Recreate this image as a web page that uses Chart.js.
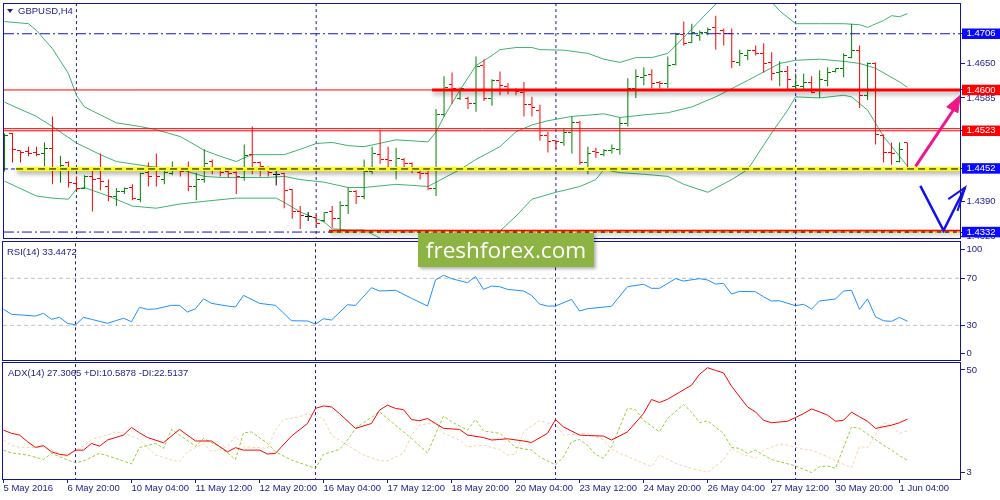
<!DOCTYPE html>
<html><head><meta charset="utf-8">
<script src="https://cdn.jsdelivr.net/npm/chart.js@4.4.0/dist/chart.umd.min.js"></script>
<style>
html,body{margin:0;padding:0;background:#fff;width:1000px;height:500px;overflow:hidden;}
.pane{position:absolute;left:0;width:1000px;}
#pMain{top:0;height:242px;}
#pRsi{top:240px;height:122px;}
#pAdx{top:361px;height:139px;}
.lbl{position:absolute;font-family:'Liberation Sans',Arial,sans-serif;font-size:9.5px;color:#1c1c8c;white-space:nowrap;line-height:11px;z-index:5;}
#tri{position:absolute;left:7px;top:9px;width:0;height:0;border-left:3px solid transparent;border-right:3px solid transparent;border-top:4px solid #1c1c8c;z-index:5;}
#wm{position:absolute;left:418px;top:233px;width:176px;height:34px;background:#8db443;color:#fff;font-family:'Open Sans',sans-serif;font-size:22.6px;line-height:33px;text-align:center;z-index:10;box-shadow:2px 2px 3px rgba(0,0,0,0.3);}
</style></head>
<body>
<div class="pane" id="pMain"><canvas id="cMain"></canvas></div>
<div class="pane" id="pRsi"><canvas id="cRsi"></canvas></div>
<div class="pane" id="pAdx"><canvas id="cAdx"></canvas></div>
<div id="tri"></div>
<div class="lbl" style="left:18px;top:4.5px;">GBPUSD,H4</div>
<div class="lbl" style="left:7px;top:246px;">RSI(14) 33.4472</div>
<div class="lbl" style="left:8px;top:366.5px;">ADX(14) 27.3065 +DI:10.5878 -DI:22.5137</div>
<div id="wm">freshforex.com</div>
<script>
// ---------------- DATA ----------------
const barOpen = [1.4456,1.4518,1.4486,1.4484,1.4482,1.4480,1.4490,1.4454,1.4463,1.4424,
 1.4415,1.4437,1.4433,1.4418,1.4400,1.4409,1.4416,1.4394,1.4444,1.4452,
 1.4431,1.4443,1.4450,1.4450,1.4418,1.4431,1.4465,1.4450,1.4446,1.4444,
 1.4435,1.4478,1.4463,1.4454,1.4441,1.4443,1.4412,1.4370,1.4362,1.4360,
 1.4353,1.4370,1.4357,1.4383,1.4409,1.4400,1.4446,1.4478,1.4469,1.4454,
 1.4469,1.4461,1.4444,1.4443,1.4415,1.4553,1.4611,1.4583,1.4583,1.4575,
 1.4646,1.4583,1.4617,1.4607,1.4600,1.4596,1.4572,1.4562,1.4514,1.4504,
 1.4501,1.4519,1.4538,1.4463,1.4484,1.4478,1.4486,1.4488,1.4536,1.4603,
 1.4624,1.4630,1.4615,1.4613,1.4648,1.4704,1.4689,1.4703,1.4708,1.4718,
 1.4712,1.4706,1.4652,1.4665,1.4675,1.4669,1.4652,1.4633,1.4635,1.4607,
 1.4607,1.4615,1.4600,1.4618,1.4635,1.4641,1.4661,1.4675,1.4590,1.4650,
 1.4514,1.4482,1.4465,1.4501];
const barHigh = [1.4518,1.4519,1.4486,1.4493,1.4493,1.4501,1.4550,1.4476,1.4465,1.4437,
 1.4439,1.4450,1.4480,1.4431,1.4415,1.4416,1.4422,1.4444,1.4463,1.4480,
 1.4450,1.4465,1.4454,1.4465,1.4444,1.4488,1.4469,1.4454,1.4450,1.4446,
 1.4497,1.4531,1.4465,1.4456,1.4450,1.4444,1.4413,1.4381,1.4370,1.4364,
 1.4370,1.4381,1.4390,1.4416,1.4411,1.4469,1.4493,1.4523,1.4493,1.4491,
 1.4471,1.4463,1.4452,1.4452,1.4564,1.4626,1.4633,1.4605,1.4587,1.4663,
 1.4658,1.4620,1.4635,1.4613,1.4603,1.4615,1.4587,1.4572,1.4521,1.4506,
 1.4527,1.4550,1.4542,1.4493,1.4491,1.4488,1.4497,1.4548,1.4622,1.4639,
 1.4643,1.4639,1.4617,1.4663,1.4708,1.4729,1.4725,1.4712,1.4718,1.4740,
 1.4716,1.4716,1.4676,1.4676,1.4684,1.4688,1.4671,1.4654,1.4645,1.4631,
 1.4631,1.4626,1.4637,1.4643,1.4641,1.4669,1.4725,1.4684,1.4652,1.4652,
 1.4516,1.4501,1.4501,1.4501];
const barLow = [1.4446,1.4463,1.4463,1.4475,1.4475,1.4456,1.4422,1.4425,1.4416,1.4409,
 1.4413,1.4371,1.4411,1.4390,1.4381,1.4404,1.4392,1.4388,1.4418,1.4418,
 1.4422,1.4439,1.4437,1.4409,1.4392,1.4425,1.4441,1.4437,1.4435,1.4404,
 1.4429,1.4441,1.4437,1.4437,1.4420,1.4377,1.4357,1.4338,1.4353,1.4343,
 1.4351,1.4340,1.4332,1.4366,1.4385,1.4394,1.4441,1.4461,1.4450,1.4431,
 1.4454,1.4443,1.4431,1.4411,1.4400,1.4550,1.4574,1.4581,1.4564,1.4559,
 1.4579,1.4570,1.4590,1.4592,1.4590,1.4550,1.4550,1.4504,1.4482,1.4488,
 1.4495,1.4480,1.4459,1.4441,1.4472,1.4475,1.4480,1.4478,1.4531,1.4585,
 1.4609,1.4603,1.4603,1.4603,1.4646,1.4684,1.4688,1.4693,1.4703,1.4676,
 1.4684,1.4641,1.4645,1.4656,1.4665,1.4633,1.4618,1.4607,1.4602,1.4602,
 1.4600,1.4594,1.4585,1.4607,1.4633,1.4624,1.4660,1.4566,1.4581,1.4497,
 1.4463,1.4459,1.4463,1.4448];
const barClose = [1.4514,1.4488,1.4482,1.4480,1.4478,1.4490,1.4454,1.4457,1.4425,1.4415,
 1.4437,1.4431,1.4428,1.4400,1.4409,1.4415,1.4396,1.4443,1.4437,1.4437,
 1.4444,1.4450,1.4446,1.4418,1.4431,1.4461,1.4450,1.4444,1.4443,1.4437,
 1.4476,1.4463,1.4456,1.4444,1.4441,1.4411,1.4370,1.4364,1.4362,1.4349,
 1.4368,1.4358,1.4383,1.4409,1.4400,1.4446,1.4480,1.4469,1.4467,1.4471,
 1.4461,1.4454,1.4443,1.4415,1.4553,1.4605,1.4602,1.4602,1.4574,1.4645,
 1.4583,1.4618,1.4609,1.4600,1.4598,1.4572,1.4566,1.4514,1.4502,1.4502,
 1.4519,1.4538,1.4463,1.4480,1.4482,1.4486,1.4490,1.4536,1.4603,1.4626,
 1.4628,1.4613,1.4613,1.4646,1.4704,1.4688,1.4708,1.4708,1.4714,1.4706,
 1.4706,1.4654,1.4669,1.4675,1.4669,1.4650,1.4631,1.4635,1.4620,1.4609,
 1.4615,1.4596,1.4620,1.4633,1.4641,1.4665,1.4675,1.4590,1.4650,1.4516,
 1.4482,1.4481,1.4488,1.4454];

// Bollinger bands: [bar, price]
const bbUpper = [[0,1.4729],[3,1.4725],[4,1.4712],[6,1.4678],[8,1.4631],[9,1.4590],[10,1.4568],[12,1.4553],[14,1.4538],[17,1.4531],[19,1.4525],[22,1.4512],[24,1.4495],[25,1.4486],[27,1.4475],[29,1.4465],[30,1.4472],[31,1.4478],[35,1.4478],[37,1.4488],[39,1.4499],[41,1.4501],[43,1.4495],[45,1.4493],[49,1.4506],[53,1.4502],[54,1.4521],[55,1.4550],[57,1.4600],[59,1.4646],[61,1.4665],[62,1.4676],[64,1.4680],[66,1.4680],[67,1.4676],[70,1.4675],[73,1.4669],[75,1.4658],[77,1.4652],[79,1.4661],[81,1.4661],[83,1.4669],[85,1.4699],[87,1.4731],[89,1.4762],[91,1.4785],[94,1.4787],[96,1.4766],[97,1.4749],[99,1.4725],[102,1.4725],[105,1.4725],[107,1.4723],[108,1.4718],[110,1.4731],[111,1.4740],[112,1.4738],[113,1.4744]];
const bbMiddle = [[0,1.4577],[4,1.4550],[6,1.4531],[9,1.4500],[12,1.4478],[14,1.4465],[18,1.4456],[22,1.4450],[25,1.4437],[27,1.4435],[33,1.4435],[35,1.4437],[37,1.4431],[40,1.4426],[43,1.4416],[45,1.4416],[49,1.4422],[53,1.4418],[54,1.4426],[57,1.4450],[59,1.4469],[62,1.4493],[64,1.4521],[66,1.4534],[68,1.4542],[71,1.4550],[75,1.4555],[77,1.4548],[80,1.4553],[83,1.4557],[86,1.4568],[89,1.4587],[93,1.4618],[97,1.4650],[99,1.4656],[102,1.4658],[105,1.4654],[107,1.4650],[109,1.4641],[112,1.4615],[113,1.4605]];
const bbLower = [[0,1.4428],[4,1.4400],[6,1.4396],[8,1.4394],[9,1.4413],[10,1.4416],[13,1.4400],[16,1.4381],[19,1.4377],[22,1.4385],[25,1.4390],[29,1.4396],[34,1.4396],[35,1.4388],[37,1.4370],[40,1.4351],[41,1.4338],[43,1.4336],[45,1.4336],[49,1.4305],[55,1.4292],[61,1.4310],[62,1.4334],[64,1.4362],[66,1.4394],[69,1.4407],[72,1.4418],[74,1.4431],[75,1.4450],[77,1.4444],[80,1.4441],[83,1.4437],[85,1.4422],[88,1.4407],[91,1.4431],[93,1.4450],[96,1.4519],[98,1.4562],[99,1.4587],[102,1.4585],[105,1.4590],[106,1.4587],[108,1.4562],[110,1.4512],[112,1.4475],[113,1.4456]];

// RSI(14): [bar, value]
const rsiValues = [[0,43.6],[1,39.4],[4,37.9],[5,40.2],[6,35.1],[7,36.8],[8,31.7],[9,30.3],[10,36.8],[11,35.1],[13,31.7],[14,33.9],[15,36.0],[16,33.1],[17,45.3],[18,43.6],[19,43.9],[21,47.0],[22,47.0],[23,41.3],[24,44.1],[25,52.6],[26,48.7],[28,46.4],[29,45.6],[30,55.5],[32,48.7],[34,47.0],[36,33.9],[38,33.7],[39,31.1],[40,35.6],[41,34.5],[43,47.5],[44,47.0],[46,62.0],[47,59.2],[49,59.8],[51,53.0],[53,46.4],[54,68.6],[55,72.6],[56,69.7],[58,66.3],[59,71.4],[60,60.6],[61,63.4],[62,62.9],[63,60.6],[65,59.2],[66,55.5],[67,48.1],[68,46.4],[69,46.4],[71,52.1],[72,42.2],[73,44.1],[76,46.2],[78,62.9],[80,64.9],[81,61.5],[82,61.5],[84,69.7],[85,67.7],[87,69.7],[88,68.6],[89,65.1],[90,65.7],[91,56.6],[92,58.9],[94,58.6],[95,54.3],[96,50.7],[97,50.9],[99,46.7],[100,47.9],[101,43.9],[102,50.7],[104,52.4],[105,59.2],[106,59.8],[107,43.6],[108,52.6],[109,37.3],[110,33.9],[111,33.4],[112,36.8],[113,33.4]];

// ADX(14): [bar, value]
const adxLine = [[0,22.8],[1,21.5],[2,20.8],[3,18.1],[4,15.8],[5,16.5],[6,14.0],[7,13.0],[8,12.6],[9,14.7],[10,14.7],[11,17.4],[12,16.3],[13,18.8],[15,20.8],[16,23.9],[17,21.7],[18,19.8],[20,17.7],[22,23.1],[24,18.4],[26,18.4],[28,14.0],[29,15.7],[30,14.7],[32,14.7],[33,13.1],[34,13.4],[36,20.4],[38,25.5],[39,31.6],[40,32.6],[41,32.2],[42,29.5],[44,23.5],[46,25.5],[47,30.9],[48,32.9],[49,31.6],[50,31.1],[51,27.1],[52,26.6],[53,27.5],[54,25.5],[55,23.5],[57,23.1],[58,20.8],[60,19.8],[61,18.8],[62,19.0],[63,19.3],[65,18.4],[66,17.8],[68,21.5],[69,27.1],[70,24.1],[72,20.8],[73,20.6],[75,20.4],[76,18.8],[78,22.1],[80,29.5],[81,35.2],[82,34.0],[83,35.3],[86,41.0],[87,45.4],[88,48.1],[89,47.0],[90,46.0],[91,40.6],[93,32.2],[94,30.2],[95,26.8],[96,25.8],[98,26.4],[99,27.9],[100,29.5],[101,31.4],[102,30.2],[103,28.9],[104,26.4],[105,26.8],[106,30.1],[107,28.2],[108,26.4],[109,23.5],[111,24.8],[112,25.8],[113,27.3]];
const plusDi = [[0,14.7],[1,13.6],[3,12.7],[5,10.9],[6,13.4],[8,10.7],[9,9.6],[10,10.3],[12,13.4],[14,11.4],[16,9.1],[17,15.8],[19,17.4],[20,15.4],[21,23.1],[22,20.8],[24,16.3],[25,19.4],[27,16.1],[28,13.6],[29,10.9],[30,21.7],[31,22.1],[33,17.4],[34,14.0],[36,10.7],[39,7.3],[40,13.0],[42,15.0],[43,18.8],[44,23.5],[45,25.8],[47,30.2],[49,24.8],[51,19.4],[53,13.6],[55,28.5],[56,26.2],[58,22.8],[59,27.1],[60,22.5],[62,21.5],[63,18.8],[64,15.8],[66,14.7],[67,12.0],[69,8.7],[70,12.0],[71,18.1],[72,19.0],[73,16.7],[74,13.0],[75,11.4],[76,16.1],[78,31.6],[79,31.1],[80,26.8],[82,22.1],[83,27.5],[85,33.2],[86,30.2],[87,25.8],[88,26.6],[90,21.5],[91,15.8],[92,15.4],[93,13.4],[94,14.7],[95,12.7],[96,10.9],[99,8.3],[101,5.6],[102,8.0],[103,8.3],[104,7.3],[106,24.1],[107,23.5],[108,21.2],[110,16.7],[111,14.7],[112,12.4],[113,10.6]];
const minusDi = [[0,18.8],[1,16.7],[2,15.8],[4,15.8],[5,16.1],[7,13.4],[8,12.0],[9,14.7],[10,16.3],[11,19.0],[13,20.8],[14,22.1],[15,21.7],[17,19.0],[18,15.8],[19,12.7],[21,10.7],[22,10.0],[23,14.0],[25,17.4],[26,14.0],[28,16.1],[29,20.4],[30,16.1],[33,15.4],[34,22.8],[35,27.1],[37,28.2],[38,29.5],[40,27.5],[41,20.8],[43,16.7],[45,12.7],[47,10.4],[48,10.4],[50,13.4],[51,20.8],[52,24.8],[54,25.8],[55,21.5],[57,18.8],[58,16.1],[60,16.7],[62,15.0],[63,12.7],[64,13.1],[65,22.1],[67,26.6],[69,24.8],[70,20.8],[73,21.5],[75,18.8],[76,15.0],[79,10.7],[81,8.0],[82,12.7],[84,9.3],[86,7.3],[88,5.7],[89,8.3],[90,10.7],[91,15.7],[92,13.4],[94,11.4],[95,14.7],[97,17.1],[98,16.7],[100,15.0],[101,14.7],[103,12.0],[104,10.3],[106,7.6],[107,16.1],[108,15.8],[110,25.8],[111,24.4],[112,21.5],[113,22.5]];

// time axis
const timeLabels = ["5 May 2016","6 May 20:00","10 May 04:00","11 May 12:00","12 May 20:00","16 May 04:00","17 May 12:00","18 May 20:00","20 May 04:00","23 May 12:00","24 May 20:00","26 May 04:00","27 May 12:00","30 May 20:00","1 Jun 04:00"];
const timeLabelBars = [0,8,16,24,32,40,48,56,64,72,80,88,96,104,112];
const weekSeparatorBars = [9,39,69,99];

// price axis labels
const priceAxisTicks = [1.4650,1.4585,1.4390,1.4323];
const blueLevelTicks = [1.4706,1.4452,1.4332];
const redLevelTicks = [1.4600,1.4523];
const rsiAxisLabels = ["100","70","30","0"];
const rsiAxisValues = [94.7,70,30,5.8];
const rsiLevels = [70,30];
const adxAxisLabels = ["50","3"];
const adxAxisValues = [47.2,5.5];

// horizontal levels (price) and where they start (bar)
const topDashLevel = 1.4706;
const resistLevel = 1.4600, resistFromBar = 53.5;
const midLevels = [1.4527,1.4523];
const supportLevel = 1.4451, supportFromBar = 1.45;
const bottomLevel = 1.4332, bottomRedLevel = 1.43345, bottomFromBar = 40.6;

// hand-drawn annotations in [bar, price]
const pinkShaft = [[114.0,1.4456],[118.9,1.4566]];
const pinkHead = [[119.6,1.4590],[117.9,1.4568],[119.3,1.4557],[119.6,1.4590]];
const blueCheck = [[114.6,1.4419],[117.5,1.4335],[120.2,1.4416]];
const blueCheckHead = [[118.1,1.4394],[120.2,1.4416],[119.25,1.4372]];

// ---------------- STYLE / HELPERS ----------------
const X_MIN = -0.0625, X_MAX = 119.6875;
const NAVY = '#1c1c8c', FRAME = '#12129a';
const UP = '#008000', DOWN = '#ff0000', DOJI = '#000000';
const BB = '#3cb371', SEP = '#1a1a8a';
const tickFont = {family:"'Liberation Sans', Arial, sans-serif", size:9.5, lineHeight:1};

const pts = a => a.map(p => ({x:p[0], y:p[1]}));
const hSeg = (price, from, to) => [{x:from,y:price},{x:to,y:price}];
const vSeg = (bar, lo, hi) => [{x:bar,y:lo},{x:bar,y:hi}];
function lineDs(data, color, width, dash, order, extra){
  return Object.assign({type:'line', data, borderColor:color, backgroundColor:color, borderWidth:width,
    borderDash:dash||[], pointRadius:0, pointHoverRadius:0, fill:false, tension:0, order}, extra||{});
}
const imgCache = {};
function tickImg(color, side){
  const k = color+side; if (imgCache[k]) return imgCache[k];
  const c = document.createElement('canvas'); c.width = 7; c.height = 1;
  const g = c.getContext('2d'); g.fillStyle = color; g.fillRect(side==='L'?0:4, 0, 3, 1);
  return imgCache[k] = c;
}

const framePlugin = { id:'frame', afterDatasetsDraw(chart){
  const {ctx, chartArea:a} = chart; ctx.save(); ctx.strokeStyle = FRAME; ctx.lineWidth = 1;
  ctx.strokeRect(a.left-0.5, a.top-0.5, a.right-a.left, a.bottom-a.top+1); ctx.restore(); } };
const shadowPlugin = { id:'shadow',
  beforeDatasetDraw(chart, args){ const ds = chart.data.datasets[args.index];
    if (ds.shadow){ const c = chart.ctx; c.save(); c.shadowColor='rgba(0,0,0,0.35)'; c.shadowBlur=4; c.shadowOffsetX=1; c.shadowOffsetY=3; } },
  afterDatasetDraw(chart, args){ const ds = chart.data.datasets[args.index]; if (ds.shadow) chart.ctx.restore(); } };
const crispPlugin = { id:'crisp', beforeDatasetsDraw(chart){ chart.ctx.imageSmoothingEnabled = false; } };

function fitY(sc){ sc.width = 39; sc.paddingTop = 0; sc.paddingBottom = 0; }
function xScale(show){
  const s = {type:'linear', min:X_MIN, max:X_MAX, display:show, offset:false};
  if (show){
    Object.assign(s, {
      afterFit(sc){ sc.height = 21; sc.paddingLeft = 0; sc.paddingRight = 0; },
      afterBuildTicks(sc){ sc.ticks = timeLabelBars.map(v => ({value:v})); },
      ticks:{autoSkip:false, maxRotation:0, minRotation:0, align:'start', padding:1, color:NAVY, font:tickFont,
        callback:(v,i)=>timeLabels[i]},
      grid:{drawOnChartArea:false, drawTicks:true, tickLength:4, color:NAVY},
      border:{display:false}
    });
  }
  return s;
}
function baseOpts(yScale, showX, padding){
  return {responsive:true, maintainAspectRatio:false, animation:false, events:[],
    layout:{padding},
    plugins:{legend:{display:false}, tooltip:{enabled:false}},
    scales:{x:xScale(showX), y:yScale}};
}

// ---------------- MAIN PRICE CHART ----------------
const barColors = barClose.map((c,i)=> c>barOpen[i] ? UP : (c<barOpen[i] ? DOWN : DOJI));
const mainDatasets = [
  lineDs(pts(pinkShaft), '#f0168a', 3, [], 0, {clip:false}),
  lineDs(pts(pinkHead), '#f0168a', 1, [], 0, {clip:false, fill:'shape'}),
  lineDs(pts(blueCheck), '#1010f0', 2.5, [], 0, {clip:false}),
  lineDs(pts(blueCheckHead), '#1010f0', 2, [], 0, {clip:false}),
  lineDs(hSeg(supportLevel, supportFromBar, X_MAX), '#000000', 1, [7,4], 1),
  lineDs(hSeg(supportLevel, supportFromBar, X_MAX), '#ffff00', 4, [], 2, {shadow:true}),
  lineDs(hSeg(supportLevel, X_MIN, X_MAX), '#1414c8', 1, [4,3], 3),
  lineDs(hSeg(resistLevel, resistFromBar, X_MAX), '#ff0000', 3, [], 2, {shadow:true}),
  lineDs(hSeg(resistLevel, X_MIN, X_MAX), '#ff0000', 1, [], 3),
  lineDs(hSeg(midLevels[0], X_MIN, X_MAX), '#ff0000', 1, [], 3),
  lineDs(hSeg(midLevels[1], X_MIN, X_MAX), '#ff0000', 1, [], 3),
  lineDs(hSeg(topDashLevel, X_MIN, X_MAX), '#1414c8', 1, [10,3,2,3], 3),
  lineDs(hSeg(bottomLevel, X_MIN, X_MAX), '#1414c8', 1, [10,3,2,3], 3),
  lineDs(hSeg(bottomLevel, bottomFromBar, X_MAX), '#000000', 1, [4,4], 1),
  lineDs(hSeg(bottomLevel, bottomFromBar, X_MAX), '#ffff00', 1, [], 1.5),
  lineDs(hSeg(bottomRedLevel, bottomFromBar, X_MAX), '#ff0000', 2, [], 2, {shadow:true}),
  {type:'line', showLine:false, order:5, data: barOpen.map((v,i)=>({x:i,y:v})),
    pointStyle: barColors.map(c=>tickImg(c,'L')), pointRadius:3, pointHoverRadius:3},
  {type:'line', showLine:false, order:5, data: barClose.map((v,i)=>({x:i,y:v})),
    pointStyle: barColors.map(c=>tickImg(c,'R')), pointRadius:3, pointHoverRadius:3},
  {type:'bar', order:6, data: barHigh.map((h,i)=>({x:i, y:[barLow[i], h]})),
    backgroundColor: barColors, borderWidth:0, barThickness:1, inflateAmount:0, grouped:false},
  lineDs(pts(bbUpper), BB, 1, [], 7),
  lineDs(pts(bbMiddle), BB, 1, [], 7),
  lineDs(pts(bbLower), BB, 1, [], 7),
  ...weekSeparatorBars.map(b => lineDs(vSeg(b, 1.40, 1.50), SEP, 1, [3,3], 8))
];
const isBlue = v => blueLevelTicks.some(t=>Math.abs(t-v)<1e-6);
const isRed = v => redLevelTicks.some(t=>Math.abs(t-v)<1e-6);
const mainY = {type:'linear', position:'right', min:1.43208, max:1.47621,
  afterFit: fitY,
  afterBuildTicks(sc){ sc.ticks = priceAxisTicks.concat(blueLevelTicks.concat(redLevelTicks).sort((a,b)=>a-b)).map(v=>({value:v})); },
  ticks:{autoSkip:false, padding:1.5, font:tickFont,
    callback:v=>Number(v).toFixed(4),
    color:c=> (isBlue(c.tick.value)||isRed(c.tick.value)) ? '#ffffff' : NAVY,
    showLabelBackdrop:true,
    backdropColor:c=> isBlue(c.tick.value) ? '#0a0aff' : (isRed(c.tick.value) ? '#ff0000' : 'rgba(0,0,0,0)'),
    backdropPadding:{left:4.5, right:5, top:0.5, bottom:0.5}},
  grid:{drawOnChartArea:false, drawTicks:true, tickLength:4, color:NAVY},
  border:{display:false}};
new Chart(document.getElementById('cMain'), {type:'line', data:{datasets:mainDatasets},
  options: baseOpts(mainY, false, {left:3, top:3, right:0, bottom:3}),
  plugins:[shadowPlugin, crispPlugin, framePlugin]});

// ---------------- RSI ----------------
const rsiY = {type:'linear', position:'right', min:0.5, max:100.9,
  afterFit: fitY,
  afterBuildTicks(sc){ sc.ticks = rsiAxisValues.map(v=>({value:v})); },
  ticks:{autoSkip:false, padding:1.5, font:tickFont, color:NAVY, callback:(v,i)=>rsiAxisLabels[i]},
  grid:{drawOnChartArea:false, drawTicks:true, tickLength:4, color:NAVY},
  border:{display:false}};
new Chart(document.getElementById('cRsi'), {type:'line', data:{datasets:[
  lineDs(pts(rsiValues), '#1e90ff', 1, [], 0),
  ...rsiLevels.map(l => lineDs(hSeg(l, X_MIN, X_MAX), '#c0c0c0', 1, [4,3], 1)),
  ...weekSeparatorBars.map(b => lineDs(vSeg(b, -10, 110), SEP, 1, [3,3], 2))
]}, options: baseOpts(rsiY, false, {left:3, top:2, right:0, bottom:2}), plugins:[framePlugin]});

// ---------------- ADX ----------------
const adxY = {type:'linear', position:'right', min:3, max:50,
  afterFit: fitY,
  afterBuildTicks(sc){ sc.ticks = adxAxisValues.map(v=>({value:v})); },
  ticks:{autoSkip:false, padding:1.5, font:tickFont, color:NAVY, callback:(v,i)=>adxAxisLabels[i]},
  grid:{drawOnChartArea:false, drawTicks:true, tickLength:4, color:NAVY},
  border:{display:false}};
new Chart(document.getElementById('cAdx'), {type:'line', data:{datasets:[
  lineDs(pts(adxLine), '#ff0000', 1, [], 0),
  lineDs(pts(plusDi), '#9acd32', 1, [3,2], 1),
  lineDs(pts(minusDi), '#f5d5a8', 1, [3,2], 2),
  ...weekSeparatorBars.map(b => lineDs(vSeg(b, -10, 100), SEP, 1, [3,3], 3))
]}, options: baseOpts(adxY, true, {left:3, top:2, right:0, bottom:0}), plugins:[framePlugin]});
</script>
</body></html>
